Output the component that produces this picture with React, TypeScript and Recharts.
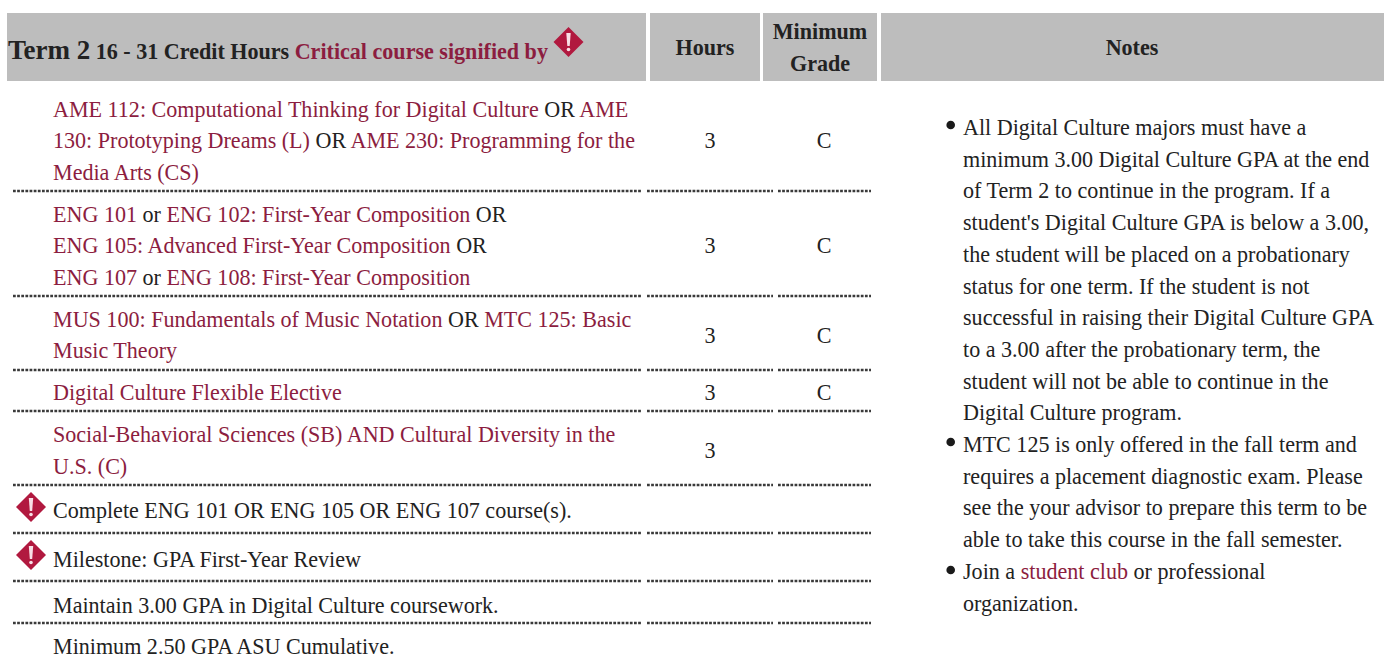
// App.tsx - degree map table drawn on a pixel-domain scatter chart

import React from 'react';
import { ScatterChart, Scatter, XAxis, YAxis, ReferenceArea, ReferenceLine } from 'recharts';

const WIDTH = 1384;
const HEIGHT = 657;
const LINK = '#8c1d40';
const INK = '#222222';
const SERIF = '"Liberation Serif", serif';
const FONT_SIZE = 22.08;

// runs alternate: [link, plain, link, ...]
const courseLines: string[][] = [
    ['AME 112: Computational Thinking for Digital Culture', ' OR ', 'AME'],
    ['130: Prototyping Dreams (L)', ' OR ', 'AME 230: Programming for the'],
    ['Media Arts (CS)'],
    ['ENG 101', ' or ', 'ENG 102: First-Year Composition', ' OR'],
    ['ENG 105: Advanced First-Year Composition', ' OR'],
    ['ENG 107', ' or ', 'ENG 108: First-Year Composition'],
    ['MUS 100: Fundamentals of Music Notation', ' OR ', 'MTC 125: Basic'],
    ['Music Theory'],
    ['Digital Culture Flexible Elective'],
    ['Social-Behavioral Sciences (SB) AND Cultural Diversity in the'],
    ['U.S. (C)'],
    ['', 'Complete ENG 101 OR ENG 105 OR ENG 107 course(s).'],
    ['', 'Milestone: GPA First-Year Review'],
    ['', 'Maintain 3.00 GPA in Digital Culture coursework.'],
    ['', 'Minimum 2.50 GPA ASU Cumulative.'],
];
const hours = ['3', '3', '3', '3', '3'];
const grades = ['C', 'C', 'C', 'C'];
const noteLines: string[][] = [
    ['', 'All Digital Culture majors must have a'],
    ['', 'minimum 3.00 Digital Culture GPA at the end'],
    ['', 'of Term 2 to continue in the program. If a'],
    ['', "student's Digital Culture GPA is below a 3.00,"],
    ['', 'the student will be placed on a probationary'],
    ['', 'status for one term. If the student is not'],
    ['', 'successful in raising their Digital Culture GPA'],
    ['', 'to a 3.00 after the probationary term, the'],
    ['', 'student will not be able to continue in the'],
    ['', 'Digital Culture program.'],
    ['', 'MTC 125 is only offered in the fall term and'],
    ['', 'requires a placement diagnostic exam. Please'],
    ['', 'see the your advisor to prepare this term to be'],
    ['', 'able to take this course in the fall semester.'],
    ['', 'Join a ', 'student club', ' or professional'],
    ['', 'organization.'],
];

// layout, kept apart from the content above
const courseBaselines = [117, 148, 180, 222, 253, 285, 327, 358, 400, 442, 474, 518, 567, 613, 654];
const hourBaselines = [148, 253, 343, 400, 458];
const noteBaselines = [135, 167, 198, 230, 262, 294, 325, 357, 389, 420, 452, 484, 515, 547, 579, 611];
const bulletRows = [125, 442, 570];
const ruleRows = [191, 296, 370, 411, 485, 533, 581, 623];
const ruleColumns = [[13, 641], [647, 773], [778, 871]];
const headerBoxes = [[7, 646], [650, 760], [763, 877], [881, 1384]];
const diamonds = [
    { x: 568.5, y: 42 },
    { x: 31, y: 507 },
    { x: 31, y: 555 },
];
const headerCells = [
    { x: 705, y: 55, label: 'Hours' },
    { x: 820, y: 39, label: 'Minimum' },
    { x: 820, y: 71, label: 'Grade' },
    { x: 1132, y: 55, label: 'Notes' },
];

const toRows = (lines: string[][], x: number, baselines: number[]) =>
    lines.map((runs, i) => ({ x, y: baselines[i], runs }));
const courseData = toRows(courseLines, 53, courseBaselines);
const noteData = toRows(noteLines, 963, noteBaselines);
const hourData = hours.map((label, i) => ({ x: 710, y: hourBaselines[i], label }));
const gradeData = grades.map((label, i) => ({ x: 824, y: hourBaselines[i], label }));
const bulletData = bulletRows.map((y) => ({ x: 950.7, y }));

function RunsShape({ cx, cy, payload }: any) {
    return (
        <text x={cx} y={cy} fontFamily={SERIF} fontSize={FONT_SIZE} style={{ whiteSpace: 'pre' }}>
            {payload.runs.map((run: string, i: number) => (
                <tspan key={i} fill={i % 2 === 0 ? LINK : INK}>{run}</tspan>
            ))}
        </text>
    );
}

function CenteredShape({ cx, cy, payload }: any) {
    return <text x={cx} y={cy} textAnchor="middle" fontFamily={SERIF} fontSize={FONT_SIZE} fill={INK}>{payload.label}</text>;
}

function HeaderShape({ cx, cy, payload }: any) {
    return <text x={cx} y={cy} textAnchor="middle" fontFamily={SERIF} fontSize={FONT_SIZE} fontWeight="bold" fill={INK}>{payload.label}</text>;
}

function BulletShape({ cx, cy }: any) {
    return <circle cx={cx} cy={cy} r={4.3} fill="#1a1a1a" />;
}

function DiamondShape({ cx, cy }: any) {
    return (
        <g>
            <polygon points={`${cx - 15},${cy} ${cx},${cy - 15} ${cx + 15},${cy} ${cx},${cy + 15}`} fill="#b1193f" />
            <polygon points={`${cx - 2.2},${cy - 9} ${cx + 2.2},${cy - 9} ${cx + 1.2},${cy + 4} ${cx - 1.2},${cy + 4}`} fill="#f8dfe6" />
            <circle cx={cx} cy={cy + 7.5} r={1.8} fill="#f8dfe6" />
        </g>
    );
}

export default function App() {
    return (
        <div style={{ position: 'absolute', left: 0, top: 0, width: WIDTH, height: HEIGHT, overflow: 'hidden' }}>
            <ScatterChart width={WIDTH} height={HEIGHT} margin={{ top: 0, right: 0, bottom: 0, left: 0 }}>
                <XAxis type="number" dataKey="x" domain={[0, WIDTH]} hide />
                <YAxis type="number" dataKey="y" domain={[0, HEIGHT]} reversed hide />
                {headerBoxes.map(([x1, x2]) => (
                    <ReferenceArea key={x1} x1={x1} x2={x2} y1={13} y2={81} fill="#bdbdbd" fillOpacity={1} stroke="none" />
                ))}
                {ruleRows.flatMap((y) => ruleColumns.map(([x1, x2]) => (
                    <ReferenceLine
                        key={`${y}-${x1}`}
                        segment={[{ x: x1, y }, { x: x2, y }]}
                        stroke="#3a3a3a"
                        strokeWidth={2.4}
                        strokeDasharray="2.76 1.38"
                    />
                )))}
                <Scatter data={courseData} shape={RunsShape} isAnimationActive={false} />
                <Scatter data={noteData} shape={RunsShape} isAnimationActive={false} />
                <Scatter data={hourData} shape={CenteredShape} isAnimationActive={false} />
                <Scatter data={gradeData} shape={CenteredShape} isAnimationActive={false} />
                <Scatter data={headerCells} shape={HeaderShape} isAnimationActive={false} />
                <Scatter data={bulletData} shape={BulletShape} isAnimationActive={false} />
                <Scatter data={diamonds} shape={DiamondShape} isAnimationActive={false} />
                <Scatter
                    data={[{ x: 8, y: 59 }]}
                    isAnimationActive={false}
                    shape={({ cx, cy }: any) => (
                        <text x={cx} y={cy} fontFamily={SERIF} fontWeight="bold" fontSize={FONT_SIZE} fill={INK} style={{ whiteSpace: 'pre' }}>
                            <tspan fontSize={27}>Term 2</tspan>
                            <tspan> 16 - 31 Credit Hours </tspan>
                            <tspan fill={LINK}>Critical course signified by</tspan>
                        </text>
                    )}
                />
            </ScatterChart>
        </div>
    );
}
